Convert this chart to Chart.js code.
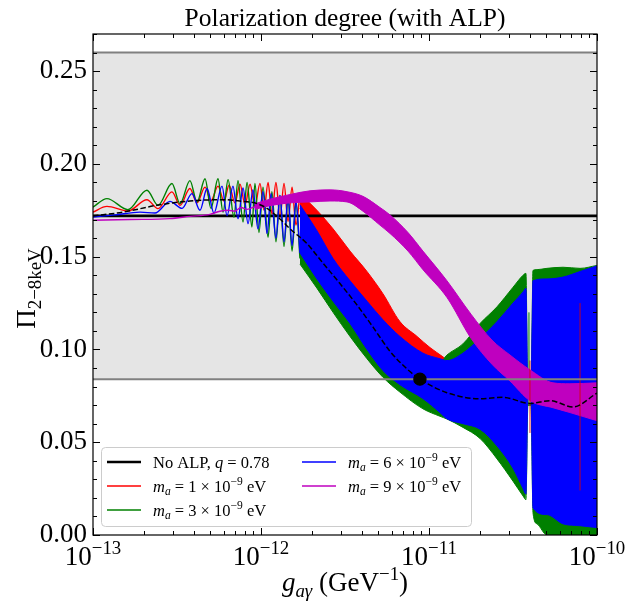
<!DOCTYPE html>
<html><head><meta charset="utf-8">
<script src="https://cdn.jsdelivr.net/npm/chart.js@4.4.0/dist/chart.umd.min.js"></script>
<style>html,body{margin:0;padding:0;background:#fff;}#wrap{width:644px;height:604px;position:relative;}</style>
</head><body><div id="wrap"><canvas id="c" width="644" height="604"></canvas></div>
<script>
// ---------- data (x given as log10 of g_{a gamma} in GeV^-1) ----------
const xTickExponents = [-13, -12, -11, -10];
const yTickValues = [0.00, 0.05, 0.10, 0.15, 0.20, 0.25];
const noAlpLevel = 0.172;
const obsLow = 0.084, obsHigh = 0.26;
const refPointLogG = -11.054, refPointP = 0.084;

const dashLogG = [-13.000,-12.821,-12.619,-12.423,-12.226,-12.125,-12.024,-11.964,-11.887,-11.827,-11.726,-11.631,-11.530,-11.429,-11.333,-11.232,-11.131,-11.054,-10.893,-10.696,-10.560,-10.399,-10.280,-10.143,-10.000];
const dashP    = [0.172,0.174,0.1777,0.180,0.1807,0.180,0.1786,0.176,0.1703,0.165,0.157,0.1465,0.1355,0.124,0.112,0.099,0.0895,0.084,0.0767,0.0734,0.0742,0.0709,0.0724,0.069,0.0765];

const redWaveLogG = [-13.000,-12.917,-12.792,-12.679,-12.613,-12.530,-12.482,-12.423,-12.381,-12.333,-12.298,-12.256,-12.220,-12.190,-12.155,-12.125,-12.095,-12.065,-12.036,-12.006,-11.982,-11.958,-11.935,-11.911,-11.887,-11.863,-11.839,-11.815,-11.792,-11.768];
const redWaveP    = [0.174,0.1771,0.1746,0.1807,0.1759,0.1849,0.1777,0.1867,0.179,0.1875,0.180,0.188,0.180,0.1885,0.179,0.189,0.178,0.189,0.177,0.1895,0.175,0.190,0.173,0.190,0.171,0.1895,0.169,0.1875,0.167,0.184];
const redBandLogG = [-11.768,-11.667,-11.571,-11.470,-11.369,-11.274,-11.173,-11.071,-10.994,-10.917,-10.875];
const redBandHi   = [0.184,0.175,0.165,0.153,0.142,0.130,0.115,0.107,0.101,0.096,0.093];
const redBandLo   = [0.164,0.155,0.140,0.128,0.118,0.108,0.100,0.094,0.090,0.088,0.086];
const redSpikeLogG = [-10.399, -10.101];
const redSpikeLo   = [0.055, 0.024];
const redSpikeHi   = [0.094, 0.125];

const greenWaveLogG = [-13.000,-12.917,-12.792,-12.679,-12.613,-12.530,-12.482,-12.423,-12.381,-12.333,-12.298,-12.256,-12.226,-12.196,-12.161,-12.137,-12.107,-12.083,-12.054,-12.036,-12.012,-11.988,-11.958,-11.935,-11.911,-11.887,-11.863,-11.839,-11.815,-11.792,-11.768];
const greenWaveP    = [0.1767,0.1813,0.1753,0.1858,0.1777,0.1894,0.1786,0.191,0.1795,0.192,0.176,0.192,0.174,0.1915,0.1713,0.191,0.1687,0.190,0.166,0.1895,0.163,0.1875,0.1605,0.185,0.158,0.183,0.1555,0.181,0.153,0.179,0.149];
const greenBandLogG = [-11.768,-11.667,-11.571,-11.470,-11.369,-11.274,-11.173,-11.036,-10.935,-10.893,-10.798,-10.696,-10.595,-10.500,-10.440,-10.423,-10.411,-10.393,-10.381,-10.357,-10.298,-10.202,-10.101,-10.000];
const greenBandHi   = [0.176,0.161,0.146,0.134,0.123,0.113,0.104,0.095,0.093,0.097,0.103,0.114,0.123,0.1335,0.140,0.141,0.07,0.07,0.1426,0.143,0.1437,0.1443,0.1437,0.1453];
const greenBandLo   = [0.146,0.133,0.120,0.107,0.095,0.085,0.077,0.068,0.064,0.0625,0.058,0.052,0.041,0.029,0.021,0.019,0.07,0.07,0.012,0.006,0.0,0.0,0.0,0.0];
const greenSpikeLogG = -10.405, greenSpikeLo = 0.07, greenSpikeHi = 0.12;

const blueWaveLogG = [-13.000,-12.869,-12.720,-12.631,-12.542,-12.470,-12.411,-12.363,-12.321,-12.280,-12.232,-12.202,-12.167,-12.137,-12.107,-12.077,-12.048,-12.018,-11.988,-11.964,-11.940,-11.911,-11.887,-11.863,-11.839,-11.815,-11.792,-11.768];
const blueWaveP    = [0.1713,0.1725,0.174,0.1735,0.1798,0.176,0.184,0.175,0.1867,0.1735,0.188,0.172,0.188,0.1705,0.187,0.1678,0.186,0.165,0.185,0.1625,0.184,0.160,0.183,0.158,0.182,0.156,0.180,0.152];
const blueBandLogG = [-11.768,-11.667,-11.571,-11.470,-11.369,-11.274,-11.173,-11.036,-10.935,-10.893,-10.798,-10.696,-10.595,-10.500,-10.440,-10.423,-10.411,-10.393,-10.381,-10.298,-10.202,-10.101,-10.000];
const blueBandHi   = [0.178,0.164,0.149,0.137,0.126,0.116,0.107,0.098,0.095,0.094,0.098,0.106,0.115,0.125,0.131,0.133,0.075,0.075,0.137,0.138,0.139,0.142,0.145];
const blueBandLo   = [0.152,0.138,0.126,0.114,0.100,0.0886,0.081,0.0735,0.066,0.0626,0.060,0.057,0.048,0.036,0.025,0.022,0.075,0.075,0.0146,0.011,0.006,0.005,0.004];

const magWaveLogG = [-13.000,-12.780,-12.542,-12.423,-12.304,-12.244,-12.196,-12.155,-12.119,-12.083,-12.036];
const magWaveP    = [0.1696,0.170,0.1705,0.1717,0.1728,0.1745,0.175,0.1745,0.1765,0.1755,0.177];
const magBandLogG = [-12.036,-11.946,-11.827,-11.708,-11.589,-11.488,-11.393,-11.292,-11.232,-11.125,-11.036,-10.893,-10.750,-10.625,-10.518,-10.399,-10.262,-10.161,-10.000];
const magBandHi   = [0.1785,0.181,0.1835,0.1855,0.186,0.185,0.1825,0.1765,0.1725,0.163,0.153,0.137,0.119,0.105,0.097,0.089,0.082,0.0815,0.082];
const magBandLo   = [0.1755,0.1775,0.179,0.1795,0.180,0.1795,0.1745,0.167,0.1625,0.153,0.143,0.128,0.106,0.092,0.083,0.0724,0.0686,0.066,0.0616];

// ---------- helpers ----------
const pts = (lg, ys) => lg.map((e, i) => ({x: Math.pow(10, e), y: ys[i]}));
const flat = (v) => [{x: 1e-13, y: v}, {x: 1e-10, y: v}];
const vline = (e, lo, hi) => [{x: Math.pow(10, e), y: lo}, {x: Math.pow(10, e), y: hi}];
const RED = '#ff0000', GREEN = '#008000', BLUE = '#0000ff', MAG = '#bf00bf', GRAY = '#808080';
const FONT = '"Liberation Serif", "Times New Roman", serif';

const datasets = [];
function add(ds) { datasets.push(Object.assign({pointRadius: 0, fill: false, cubicInterpolationMode: 'monotone', borderWidth: 1.4}, ds)); return datasets.length - 1; }
function band(lg, hi, lo, color, order) {
  const h = add({data: pts(lg, hi), borderColor: color, borderWidth: 1, order});
  add({data: pts(lg, lo), borderColor: color, borderWidth: 1, backgroundColor: color, fill: {target: h}, order});
}

// observational band
const bh = add({data: flat(obsHigh), borderWidth: 0, borderColor: 'rgba(0,0,0,0)', order: 20});
add({data: flat(obsLow), borderWidth: 0, borderColor: 'rgba(0,0,0,0)', backgroundColor: '#e5e5e5', fill: {target: bh}, order: 20});
// red
add({data: pts(redWaveLogG, redWaveP), borderColor: RED, order: 7});
band(redBandLogG, redBandHi, redBandLo, RED, 7);
// no ALP line
add({data: flat(noAlpLevel), borderColor: '#000', borderWidth: 2.6, order: 6});
// green
add({data: pts(greenWaveLogG, greenWaveP), borderColor: GREEN, order: 5});
band(greenBandLogG, greenBandHi, greenBandLo, GREEN, 5);
add({data: vline(greenSpikeLogG, greenSpikeLo, greenSpikeHi), borderColor: GREEN, borderWidth: 1, cubicInterpolationMode: 'default', order: 5});
// blue
add({data: pts(blueWaveLogG, blueWaveP), borderColor: BLUE, order: 4});
band(blueBandLogG, blueBandHi, blueBandLo, BLUE, 4);
// magenta
add({data: pts(magWaveLogG, magWaveP), borderColor: MAG, order: 3});
band(magBandLogG, magBandHi, magBandLo, MAG, 3);
// red resonance spikes showing through
redSpikeLogG.forEach((e, i) => add({data: vline(e, redSpikeLo[i], redSpikeHi[i]), borderColor: 'rgba(220,0,0,0.85)', borderWidth: 1, cubicInterpolationMode: 'default', order: 2.5}));
// gray lines
add({data: flat(obsHigh), borderColor: GRAY, borderWidth: 2, order: 2});
add({data: flat(obsLow), borderColor: GRAY, borderWidth: 2, order: 2});
// dashed
add({data: pts(dashLogG, dashP), borderColor: '#000', borderWidth: 1.5, borderDash: [5.5, 2.5], order: 1});
// reference point
add({data: [{x: Math.pow(10, refPointLogG), y: refPointP}], showLine: false, pointRadius: 6, pointBackgroundColor: '#000', pointBorderColor: '#000', order: 0});

// ---------- rich text ----------
function drawRich(ctx, parts, x, y, align, base) {
  const fontOf = p => `${p.it ? 'italic ' : ''}${(p.sub || p.sup) ? base * 0.7 : base}px ${FONT}`;
  let w = 0;
  parts.forEach(p => { ctx.font = fontOf(p); p.w = ctx.measureText(p.t).width; w += p.w; });
  let cx = align === 'center' ? x - w / 2 : (align === 'right' ? x - w : x);
  ctx.textAlign = 'left'; ctx.textBaseline = 'alphabetic';
  parts.forEach(p => {
    ctx.font = fontOf(p);
    const dy = p.sub ? base * 0.22 : (p.sup ? -base * 0.42 : 0);
    ctx.fillText(p.t, cx, y + dy);
    cx += p.w;
  });
  return w;
}

const overlay = {
  id: 'overlay',
  afterDatasetsDraw(chart) {
    const {ctx, chartArea: a, scales: {x, y}} = chart;
    ctx.save();
    ctx.strokeStyle = '#000'; ctx.lineWidth = 1;
    ctx.beginPath();
    for (let e = -13; e <= -10; e++) {
      for (let k = 1; k <= 9; k++) {
        if (e === -10 && k > 1) break;
        const px = Math.round(x.getPixelForValue(k * Math.pow(10, e))) + 0.5;
        const len = k === 1 ? 7 : 4;
        ctx.moveTo(px, a.bottom); ctx.lineTo(px, a.bottom - len);
        ctx.moveTo(px, a.top); ctx.lineTo(px, a.top + len);
      }
    }
    for (let i = 0; i <= 27; i++) {
      const py = Math.round(y.getPixelForValue(i / 100)) + 0.5;
      const len = i % 5 === 0 ? 7 : 4;
      ctx.moveTo(a.left, py); ctx.lineTo(a.left + len, py);
      ctx.moveTo(a.right, py); ctx.lineTo(a.right - len, py);
    }
    ctx.stroke();
    ctx.lineWidth = 1.2;
    ctx.strokeRect(a.left, a.top, a.right - a.left, a.bottom - a.top);
    ctx.restore();
  },
  afterDraw(chart) {
    const {ctx, chartArea: a, scales: {x}} = chart;
    ctx.save();
    ctx.fillStyle = '#000';
    xTickExponents.forEach(e => {
      const px = x.getPixelForValue(Math.pow(10, e));
      drawRich(ctx, [{t: '10'}, {t: '\u2212' + String(-e), sup: true}], px, 565, 'center', 27);
    });
    drawRich(ctx, [{t: 'Polarization degree (with ALP)'}], (a.left + a.right) / 2, 26, 'center', 25.5);
    drawRich(ctx, [{t: 'g', it: true}, {t: 'a\u03b3', it: true, sub: true}, {t: ' (GeV'}, {t: '\u22121', sup: true}, {t: ')'}], (a.left + a.right) / 2, 591, 'center', 27);
    ctx.save();
    ctx.translate(35, (a.top + a.bottom) / 2 + 4);
    ctx.rotate(-Math.PI / 2);
    drawRich(ctx, [{t: '\u03a0'}, {t: '2\u22128keV', sub: true}], 0, 0, 'center', 27);
    ctx.restore();
    const lx = 101, ly = 447, lw = 370, lh = 79;
    ctx.beginPath();
    ctx.roundRect(lx + 0.5, ly + 0.5, lw, lh, 4);
    ctx.fillStyle = 'rgba(255,255,255,0.8)'; ctx.fill();
    ctx.strokeStyle = '#cccccc'; ctx.lineWidth = 1; ctx.stroke();
    const entries = [
      {c: '#000', w: 2.6, x: 107, y: 462, parts: [{t: 'No ALP, '}, {t: 'q', it: true}, {t: ' = 0.78'}]},
      {c: RED, w: 1.4, x: 107, y: 486, parts: [{t: 'm', it: true}, {t: 'a', it: true, sub: true}, {t: ' = 1 \u00d7 10'}, {t: '\u22129', sup: true}, {t: ' eV'}]},
      {c: GREEN, w: 1.4, x: 107, y: 510, parts: [{t: 'm', it: true}, {t: 'a', it: true, sub: true}, {t: ' = 3 \u00d7 10'}, {t: '\u22129', sup: true}, {t: ' eV'}]},
      {c: BLUE, w: 1.4, x: 302, y: 462, parts: [{t: 'm', it: true}, {t: 'a', it: true, sub: true}, {t: ' = 6 \u00d7 10'}, {t: '\u22129', sup: true}, {t: ' eV'}]},
      {c: MAG, w: 1.4, x: 302, y: 486, parts: [{t: 'm', it: true}, {t: 'a', it: true, sub: true}, {t: ' = 9 \u00d7 10'}, {t: '\u22129', sup: true}, {t: ' eV'}]}
    ];
    entries.forEach(en => {
      ctx.strokeStyle = en.c; ctx.lineWidth = en.w;
      ctx.beginPath(); ctx.moveTo(en.x, en.y); ctx.lineTo(en.x + 34, en.y); ctx.stroke();
      ctx.fillStyle = '#000';
      drawRich(ctx, en.parts, en.x + 46, en.y + 5.5, 'left', 16.5);
    });
    ctx.restore();
  }
};

new Chart(document.getElementById('c'), {
  type: 'line',
  data: {datasets},
  options: {
    responsive: false, animation: false, devicePixelRatio: 1,
    layout: {padding: {top: 34, right: 47, left: 0, bottom: 0}},
    plugins: {legend: {display: false}, tooltip: {enabled: false}, title: {display: false}},
    scales: {
      x: {
        type: 'logarithmic', min: 1e-13, max: 1e-10,
        grid: {display: false}, border: {display: false},
        ticks: {display: false},
        afterFit: s => { s.height = 69; }
      },
      y: {
        type: 'linear', min: 0, max: 0.27,
        grid: {display: false, drawTicks: false}, border: {display: false},
        afterBuildTicks: s => { s.ticks = yTickValues.map(v => ({value: v})); },
        ticks: {color: '#000', padding: 6, font: {family: FONT, size: 27}, callback: v => Number(v).toFixed(2)},
        afterFit: s => { s.width = 93; }
      }
    }
  },
  plugins: [overlay]
});
</script></body></html>
